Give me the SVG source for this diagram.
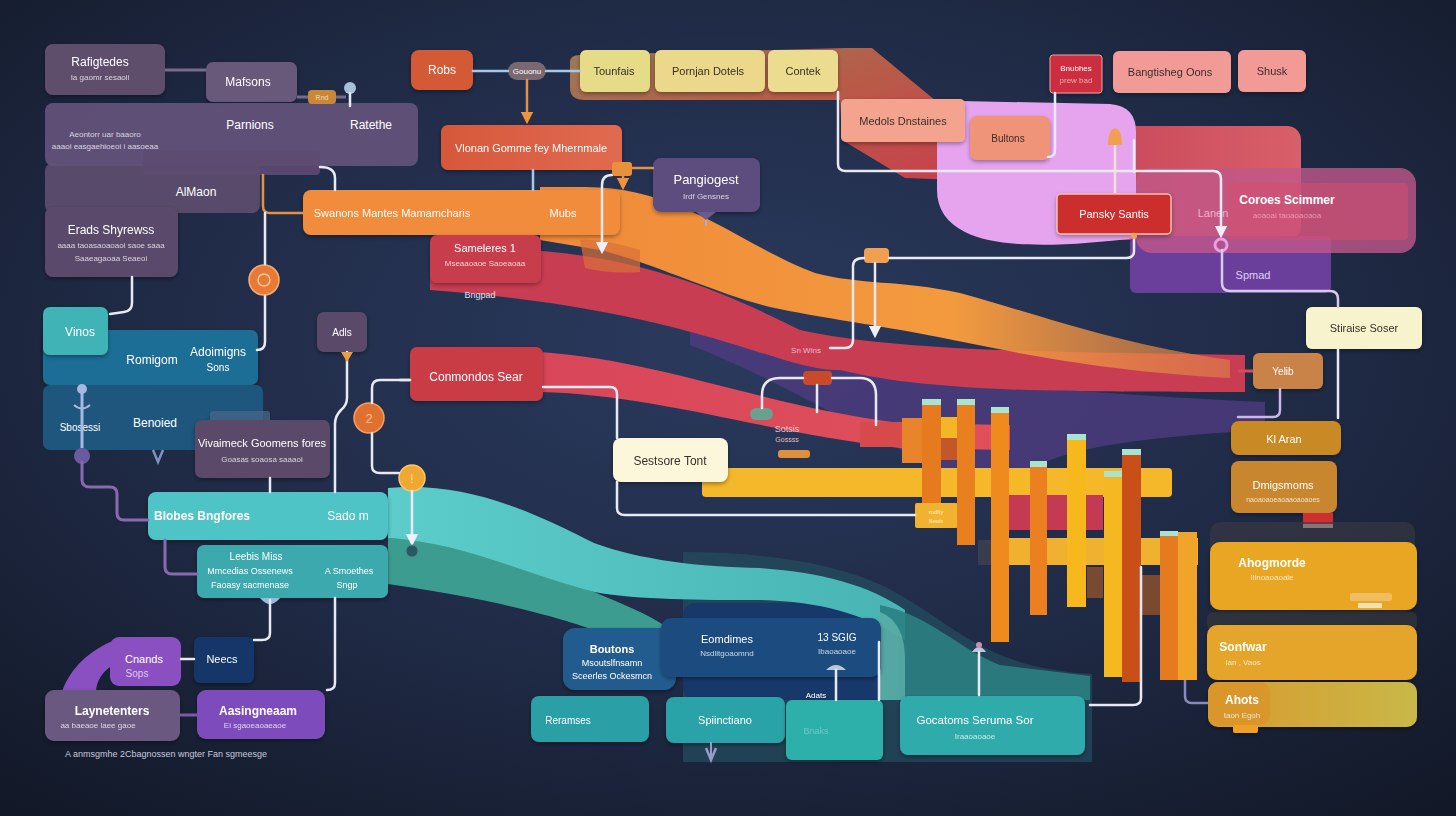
<svg xmlns="http://www.w3.org/2000/svg" width="1456" height="816" viewBox="0 0 1456 816">
<defs>
<radialGradient id="bg" cx="50%" cy="42%" r="75%">
<stop offset="0" stop-color="#2a3a5e"/><stop offset="0.55" stop-color="#1f2a45"/><stop offset="1" stop-color="#121827"/>
</radialGradient>
<linearGradient id="gOr" x1="0" y1="0" x2="1" y2="0"><stop offset="0" stop-color="#f08a3a"/><stop offset="0.6" stop-color="#f39a3e"/><stop offset="1" stop-color="#e0844a" stop-opacity="0.6"/></linearGradient>
<linearGradient id="gTeal" x1="0" y1="0" x2="1" y2="0"><stop offset="0" stop-color="#5ccdcb"/><stop offset="1" stop-color="#48b4b4"/></linearGradient>
<linearGradient id="gCrim" x1="0" y1="0" x2="1" y2="0"><stop offset="0" stop-color="#c9485a"/><stop offset="1" stop-color="#d8606a"/></linearGradient>
<linearGradient id="gRed2" x1="0" y1="0" x2="1" y2="0"><stop offset="0" stop-color="#d8465a"/><stop offset="1" stop-color="#e0505a"/></linearGradient>
<linearGradient id="gTop" x1="0" y1="0" x2="1" y2="1"><stop offset="0" stop-color="#9a7a55"/><stop offset="0.5" stop-color="#b85a48"/><stop offset="1" stop-color="#c8404c"/></linearGradient>
<linearGradient id="gAhots" x1="0" y1="0" x2="1" y2="0"><stop offset="0" stop-color="#d99a2e"/><stop offset="1" stop-color="#c8b848"/></linearGradient>
<linearGradient id="gVlon" x1="0" y1="0" x2="1" y2="0"><stop offset="0" stop-color="#d6583a"/><stop offset="1" stop-color="#e06a50"/></linearGradient>
<filter id="sh" x="-10%" y="-10%" width="120%" height="130%"><feDropShadow dx="0" dy="2" stdDeviation="2" flood-color="#000" flood-opacity="0.35"/></filter>
<marker id="aw" viewBox="0 0 10 10" refX="5" refY="5" markerWidth="5" markerHeight="5" orient="auto"><path d="M0 0 L10 5 L0 10 z" fill="#eef0f6"/></marker>
<marker id="ao" viewBox="0 0 10 10" refX="5" refY="5" markerWidth="5" markerHeight="5" orient="auto"><path d="M0 0 L10 5 L0 10 z" fill="#f0943a"/></marker>
<style>
.t{font-family:"Liberation Sans",Arial,sans-serif;font-size:12px;fill:#ffffff;text-anchor:middle}
.b{font-weight:bold}
.s{font-size:8px;fill-opacity:0.75}
.dk{fill:#3a2e2a}
.n{filter:url(#sh)}
.w{fill:none;stroke:#e8eaf3;stroke-width:2.5;stroke-linecap:round}
.lb{fill:none;stroke:#a9c6e6;stroke-width:2.5;stroke-linecap:round}
.or{fill:none;stroke:#e2904a;stroke-width:2.5;stroke-linecap:round}
.pu{fill:none;stroke:#8a6aae;stroke-width:3;stroke-linecap:round}
.cap{fill:#a8e4cf}
</style>
</defs>
<rect width="1456" height="816" fill="url(#bg)"/>

<g id="bands">
<path d="M 570 62 Q 570 55 580 55 L 845 48 L 872 48 L 965 125 L 962 180 L 905 178 L 842 140 L 840 100 L 585 100 Q 570 100 570 88 Z" fill="url(#gTop)"/>
<path d="M 690 300 C 800 330 880 370 980 382 C 1080 392 1180 398 1265 402 L 1265 430 C 1160 436 1070 445 1030 470 L 940 470 C 860 430 780 380 690 345 Z" fill="#4b3b7c" opacity="0.85"/>
<path d="M 430 250 C 600 240 700 280 800 330 C 900 352 1060 352 1245 355 L 1245 392 C 1060 392 930 392 840 370 C 780 372 700 310 430 290 Z" fill="#c93d52"/>
<path d="M 540 187 L 580 187 C 680 185 740 245 815 273 C 860 285 900 280 960 293 C 1040 315 1120 345 1230 360 L 1230 378 C 1120 372 1040 358 953 340 C 880 325 820 318 770 307 C 720 295 650 262 600 250 L 540 240 Z" fill="url(#gOr)"/>
<path d="M 580 240 Q 600 238 640 250 L 640 272 Q 610 274 585 268 Z" fill="#d8703a" opacity="0.7"/>
<path d="M 540 352 C 660 360 760 405 900 423 L 1010 425 L 1010 450 L 900 448 C 760 432 660 395 540 392 Z" fill="url(#gRed2)"/>
<path d="M 683 552 C 780 552 860 568 905 598 C 960 630 990 668 1092 674 L 1092 762 L 683 762 Z" fill="#244f60" opacity="0.7"/>
<rect x="683" y="603" width="215" height="97" rx="12" fill="#17386a"/>
<path d="M 388 538 C 460 540 520 568 594 592 C 625 605 650 615 668 628 L 600 632 C 560 618 500 600 388 584 Z" fill="#3d9c90"/>
<path d="M 388 488 C 460 482 520 505 594 543 C 640 560 700 567 760 568 C 820 572 870 585 905 610 L 905 640 C 860 612 820 602 760 600 C 700 600 640 600 594 592 C 520 572 460 542 388 538 Z" fill="url(#gTeal)"/>
<path d="M 880 605 C 930 615 960 650 1000 665 L 1090 676 L 1090 700 L 880 700 Z" fill="#2a7f82" opacity="0.9"/>
<path d="M 880 612 C 900 620 905 640 905 660 L 905 700 L 880 700 Z" fill="#7fd6c6" opacity="0.5"/>
<rect x="1100" y="126" width="201" height="114" rx="14" fill="url(#gCrim)"/>
<rect x="1130" y="236" width="201" height="57" rx="6" fill="#6a3f9c"/>
<rect x="1136" y="168" width="280" height="85" rx="16" fill="#c0588a" opacity="0.8"/>
<rect x="1228" y="183" width="180" height="57" rx="4" fill="#d44e70" opacity="0.55"/>
<path d="M 937 118 Q 937 102 960 101 L 1110 104 Q 1136 106 1136 132 L 1136 238 C 1070 246 1000 250 965 232 Q 937 218 937 190 Z" fill="#e6a4ef"/>
<rect x="702" y="468" width="470" height="29" rx="4" fill="#f5b82a"/>
<rect x="860" y="422" width="62" height="25" fill="#d64a4c"/>
<rect x="902" y="418" width="20" height="45" fill="#e8842a"/>
<rect x="941" y="417" width="16" height="21" fill="#f3b628"/>
<rect x="941" y="438" width="16" height="22" fill="#c2582a"/>
<rect x="1008" y="495" width="95" height="35" fill="#c43a52"/>
<rect x="1008" y="538" width="190" height="27" fill="#f0b030"/>
<rect x="978" y="540" width="30" height="25" fill="#4a4a52" opacity="0.6"/>
<rect x="1087" y="567" width="16" height="31" fill="#7a4a30"/>
<rect x="1141" y="575" width="19" height="40" fill="#7a4a30"/>
<rect x="915" y="503" width="43" height="25" rx="2" fill="#f1b230"/>
<text class="t" x="936" y="514" style="font-size:6px;fill:#fff2c0">rodfiy</text>
<text class="t" x="936" y="523" style="font-size:5px;fill:#fff2c0">lilesds</text>
</g>

<g id="bars">
<rect x="922" y="401" width="19" height="102" fill="#e57a1f"/><rect class="cap" x="922" y="399" width="19" height="6"/>
<rect x="957" y="401" width="18" height="144" fill="#e8801f"/><rect class="cap" x="957" y="399" width="18" height="6"/>
<rect x="991" y="409" width="18" height="233" fill="#ee8a1e"/><rect class="cap" x="991" y="407" width="18" height="6"/>
<rect x="1030" y="463" width="17" height="152" fill="#ec7f1f"/><rect class="cap" x="1030" y="461" width="17" height="6"/>
<rect x="1067" y="436" width="19" height="171" fill="#f7b81e"/><rect class="cap" x="1067" y="434" width="19" height="6"/>
<rect x="1104" y="473" width="18" height="204" fill="#f6b820"/><rect class="cap" x="1104" y="471" width="18" height="6"/>
<rect x="1122" y="451" width="19" height="231" fill="#c94f18"/><rect class="cap" x="1122" y="449" width="19" height="6"/>
<rect x="1160" y="533" width="18" height="147" fill="#e57a1f"/><rect class="cap" x="1160" y="531" width="18" height="5"/>
<rect x="1178" y="532" width="19" height="148" fill="#f0a52a"/>
</g>

<g id="nodes">
<g id="n-almaon"><rect x="45" y="163" width="215" height="50" rx="8" fill="#574a6a"/><text class="t" x="196" y="196">AlMaon</text></g>
<g id="n-rafigtedes" class="n"><rect x="45" y="44" width="120" height="51" rx="8" fill="#5f4e6c"/><text class="t" x="100" y="66">Rafigtedes</text><text class="t s" x="100" y="80">Ia gaomr sesaoii</text></g>
<g id="n-mafsons" class="n"><rect x="206" y="62" width="91" height="40" rx="7" fill="#675879"/><text class="t" x="248" y="86">Mafsons</text></g>
<g id="n-parnions"><rect x="45" y="103" width="373" height="63" rx="8" fill="#625179" opacity="0.95"/><rect x="143" y="150" width="177" height="25" rx="4" fill="#5d4a72" opacity="0.9"/><text class="t" x="250" y="129">Parnions</text><text class="t" x="371" y="129">Ratethe</text><text class="t s" x="105" y="137">Aeontorr uar baaoro</text><text class="t s" x="105" y="149">aaaoi easgaehioeoi i aasoeaa</text></g>
<g id="n-erads" class="n"><rect x="45" y="207" width="133" height="70" rx="8" fill="#5a4a6a"/><text class="t" x="111" y="234">Erads Shyrewss</text><text class="t s" x="111" y="248">aaaa taoasaoaoaoi saoe saaa</text><text class="t s" x="111" y="261">Saaeagaoaa Seaeoi</text></g>
<g id="n-swanons" class="n"><rect x="303" y="190" width="317" height="45" rx="8" fill="#f08c3a"/><text class="t" x="392" y="217" style="font-size:11px">Swanons Mantes Mamamcharis</text><text class="t" x="563" y="217" style="font-size:11px">Mubs</text></g>
<g id="n-orbit"><circle cx="264" cy="280" r="15" fill="#e87a35" stroke="#f5b07a" stroke-width="1.5"/><circle cx="264" cy="280" r="6" fill="none" stroke="#f7c79a" stroke-width="1.5"/></g>
<g id="n-romigom" class="n"><rect x="43" y="330" width="215" height="55" rx="7" fill="#1f6e96"/><text class="t" x="152" y="364">Romigom</text><text class="t" x="218" y="356">Adoimigns</text><text class="t" x="218" y="371" style="font-size:10px">Sons</text></g>
<g id="n-vinos" class="n"><rect x="43" y="307" width="65" height="48" rx="7" fill="#3fb3b6"/><text class="t" x="80" y="336">Vinos</text></g>
<g id="n-benoied"><rect x="43" y="385" width="220" height="65" rx="7" fill="#1e5a82" opacity="0.92"/><text class="t" x="80" y="431" style="font-size:10px">Sbosessi</text><text class="t" x="155" y="427">Benoied</text></g>
<g id="n-vivaimeck" class="n"><rect x="210" y="411" width="60" height="12" rx="3" fill="#4a6a8a" opacity="0.7"/><rect x="195" y="420" width="135" height="58" rx="7" fill="#5a4a68"/><text class="t" x="262" y="447" style="font-size:11px">Vivaimeck Goomens fores</text><text class="t s" x="262" y="462">Goasas soaosa saaaoi</text></g>
<g id="n-adls" class="n"><rect x="317" y="312" width="50" height="40" rx="7" fill="#5a4a68"/><text class="t" x="342" y="336" style="font-size:10px">Adls</text></g>
<g id="n-c2"><circle cx="369" cy="418" r="15" fill="#e07030" stroke="#f0a060" stroke-width="1.5"/><text class="t" x="369" y="423" style="font-size:13px;fill:#f8c08a">2</text></g>
<g id="n-c1"><circle cx="412" cy="478" r="13" fill="#f0a832" stroke="#f8c870" stroke-width="1.5"/><text class="t" x="412" y="483" style="font-size:12px;fill:#fbe0a0">!</text></g>
<g id="n-blobes" class="n"><rect x="148" y="492" width="240" height="48" rx="8" fill="#4fc4c6"/><text class="t b" x="202" y="520">Blobes Bngfores</text><text class="t" x="348" y="520">Sado m</text></g>
<g id="n-leebis" class="n"><rect x="197" y="545" width="191" height="53" rx="7" fill="#3ba9ae"/><text class="t" x="256" y="560" style="font-size:10px">Leebis Miss</text><text class="t" x="250" y="574" style="font-size:9px">Mmcedias Ossenews</text><text class="t" x="250" y="588" style="font-size:9px">Faoasy sacmenase</text><text class="t" x="349" y="574" style="font-size:9px">A  Smoethes</text><text class="t" x="347" y="588" style="font-size:9px">Sngp</text></g>
<g id="n-cnands"><path d="M 62 692 C 70 668 90 650 115 640 L 118 662 C 102 670 96 682 96 692 Z" fill="#8a50c2"/><rect x="110" y="637" width="71" height="49" rx="9" fill="#8a50c2"/><text class="t" x="144" y="663" style="font-size:11px">Cnands</text><text class="t" x="137" y="677" style="font-size:10px;fill-opacity:0.7">Sops</text></g>
<g id="n-neecs" class="n"><rect x="194" y="637" width="60" height="46" rx="6" fill="#153569"/><text class="t" x="222" y="663" style="font-size:11px">Neecs</text></g>
<g id="n-laynet" class="n"><rect x="45" y="690" width="135" height="51" rx="9" fill="#6a5880"/><text class="t b" x="112" y="715">Laynetenters</text><text class="t s" x="98" y="728">aa baeaoe laee gaoe</text></g>
<g id="n-aasing" class="n"><rect x="197" y="690" width="128" height="49" rx="9" fill="#7e4cbd"/><text class="t b" x="258" y="715">Aasingneaam</text><text class="t s" x="255" y="728">Ei sgaoeaoaeaoe</text></g>
<text class="t" x="65" y="757" style="font-size:9px;fill:#c8cadb;text-anchor:start">A anmsgmhe 2Cbagnossen wngter Fan sgmeesge</text>

<g id="n-robs" class="n"><rect x="411" y="50" width="62" height="40" rx="8" fill="#d45a35"/><text class="t" x="442" y="74">Robs</text></g>
<g id="n-gouonu"><rect x="508" y="62" width="38" height="18" rx="9" fill="#7a6870"/><text class="t" x="527" y="74" style="font-size:8px">Gouonu</text></g>
<g id="n-vlonan" class="n"><rect x="441" y="125" width="181" height="45" rx="7" fill="url(#gVlon)"/><text class="t" x="531" y="152" style="font-size:11px">Vlonan Gomme fey Mhernmale</text></g>
<g id="n-tounfais" class="n"><rect x="580" y="50" width="70" height="42" rx="6" fill="#e6dc88"/><text class="t dk" x="614" y="75" style="font-size:11px">Tounfais</text></g>
<g id="n-pornjan" class="n"><rect x="655" y="50" width="110" height="42" rx="6" fill="#ecd88a"/><text class="t dk" x="708" y="75" style="font-size:11px">Pornjan Dotels</text></g>
<g id="n-contek" class="n"><rect x="768" y="50" width="70" height="42" rx="6" fill="#ecdc90"/><text class="t dk" x="803" y="75" style="font-size:11px">Contek</text></g>
<g id="n-pangiogest" class="n"><rect x="653" y="158" width="107" height="54" rx="8" fill="#5b4e7e"/><text class="t" x="706" y="184" style="font-size:13px">Pangiogest</text><text class="t s" x="706" y="199">Irdf Gensnes</text></g>
<g id="n-sameleres" class="n"><rect x="430" y="235" width="111" height="48" rx="7" fill="#c83e4c"/><text class="t" x="485" y="252" style="font-size:11px">Sameleres 1</text><text class="t s" x="485" y="266">Mseaaoaoe Saoeaoaa</text></g>
<text class="t" x="480" y="298" style="font-size:9px;fill:#dde0ee">Bngpad</text>

<g id="n-medols" class="n"><rect x="841" y="99" width="124" height="43" rx="5" fill="#f4a48e"/><text class="t dk" x="903" y="125" style="font-size:11px">Medols  Dnstaines</text></g>
<g id="n-bultons" class="n"><rect x="970" y="116" width="80" height="44" rx="7" fill="#ef9478"/><text class="t dk" x="1008" y="142" style="font-size:10px">Bultons</text></g>
<g id="n-bnubhes" class="n"><rect x="1050" y="55" width="52" height="38" rx="3" fill="#cc2f3f" stroke="#e8a0a0" stroke-width="1"/><text class="t" x="1076" y="71" style="font-size:8px">Bnubhes</text><text class="t" x="1076" y="83" style="font-size:8px;fill:#f3a8b0">prew bad</text></g>
<g id="n-bang" class="n"><rect x="1113" y="51" width="118" height="42" rx="6" fill="#f29a96"/><text class="t dk" x="1170" y="76" style="font-size:11px">Bangtisheg Oons</text></g>
<g id="n-shusk" class="n"><rect x="1238" y="50" width="68" height="42" rx="6" fill="#f29a96"/><text class="t dk" x="1272" y="75" style="font-size:11px">Shusk</text></g>
<g id="n-pansky" class="n"><rect x="1057" y="194" width="114" height="40" rx="4" fill="#cc2e2e" stroke="#f5c0b0" stroke-width="1.5"/><text class="t" x="1114" y="218" style="font-size:11px">Pansky Santis</text></g>
<g id="n-coroes"><text class="t" x="1213" y="217" style="font-size:11px;fill:#f2b0c8">Lanen</text><text class="t b" x="1287" y="204">Coroes Scimmer</text><text class="t s" x="1287" y="218" style="fill:#f5b0c0">aoaoai taoaoaoaoa</text></g>
<g id="n-spmad"><text class="t" x="1253" y="279" style="font-size:11px;fill:#e0d0f5">Spmad</text></g>
<g id="n-stiraise" class="n"><rect x="1306" y="307" width="116" height="42" rx="6" fill="#f7f3cc"/><text class="t dk" x="1364" y="332" style="font-size:11px">Stiraise Soser</text></g>
<g id="n-yelib" class="n"><rect x="1253" y="353" width="70" height="36" rx="6" fill="#c9834a"/><text class="t" x="1283" y="375" style="font-size:10px">Yelib</text></g>
<g id="n-klaran" class="n"><rect x="1231" y="421" width="110" height="34" rx="8" fill="#c98a28"/><text class="t" x="1284" y="443" style="font-size:11px">Kl Aran</text></g>
<g id="n-dmigs" class="n"><rect x="1231" y="461" width="106" height="52" rx="8" fill="#c8862e"/><text class="t" x="1283" y="489" style="font-size:11px">Dmigsmoms</text><text class="t s" x="1283" y="502" style="font-size:7px">naoaoaoeaoaaoaoaoes</text></g>
<g id="n-redicon"><rect x="1303" y="513" width="30" height="11" fill="#cc3030"/><rect x="1303" y="524" width="30" height="4" fill="#f0d0d0"/></g>
<rect x="1210" y="522" width="205" height="90" rx="10" fill="#3a3a42" opacity="0.6"/>
<g id="n-ahog" class="n"><rect x="1210" y="542" width="207" height="68" rx="10" fill="#e8a622"/><text class="t b" x="1272" y="567">Ahogmorde</text><text class="t s" x="1272" y="580">Ilinoaoaoaie</text><rect x="1350" y="593" width="42" height="8" rx="2" fill="#f0bd60"/><rect x="1358" y="603" width="24" height="5" fill="#f4e0b0"/></g>
<rect x="1207" y="612" width="210" height="18" rx="6" fill="#3a3a3a" opacity="0.6"/>
<g id="n-sonfwar" class="n"><rect x="1207" y="625" width="210" height="55" rx="10" fill="#e5a52a"/><text class="t b" x="1243" y="651">Sonfwar</text><text class="t s" x="1243" y="665">Ian , Vaos</text></g>
<g id="n-ahots" class="n"><rect x="1208" y="682" width="209" height="45" rx="10" fill="url(#gAhots)"/><rect x="1208" y="682" width="62" height="43" rx="10" fill="#d9962c"/><text class="t b" x="1242" y="704">Ahots</text><text class="t s" x="1242" y="718">taon Egoh</text><rect x="1233" y="725" width="25" height="8" rx="2" fill="#f0a020"/></g>

<g id="n-conmondos" class="n"><rect x="410" y="347" width="133" height="54" rx="7" fill="#c93a44"/><text class="t" x="476" y="381">Conmondos Sear</text></g>
<g id="n-sestsore" class="n"><rect x="613" y="438" width="115" height="44" rx="8" fill="#fcf7da"/><text class="t dk" x="670" y="465">Sestsore Tont</text></g>
<g id="n-sotsis"><rect x="803" y="371" width="29" height="14" rx="4" fill="#c84a2a"/><rect x="750" y="408" width="23" height="12" rx="6" fill="#6aa090"/><text class="t" x="787" y="432" style="font-size:9px;fill:#f0c8d0">Sotsis</text><text class="t" x="787" y="442" style="font-size:7px;fill:#f0b8c0">Gossss</text><rect x="778" y="450" width="32" height="8" rx="3" fill="#e0903a"/><text class="t" x="806" y="353" style="font-size:8px;fill:#f2b8c8">Sn Wins</text></g>
<g id="n-tag"><rect x="864" y="248" width="25" height="15" rx="4" fill="#f0a050"/></g>

<g id="n-boutons" class="n"><rect x="563" y="628" width="113" height="62" rx="12" fill="#245c8e"/><text class="t b" x="612" y="653" style="font-size:11px">Boutons</text><text class="t" x="612" y="666" style="font-size:9px">Msoutslfnsamn</text><text class="t" x="612" y="679" style="font-size:9px">Sceerles Ockesmcn</text></g>
<g id="n-eomdimes" class="n"><rect x="661" y="618" width="220" height="59" rx="10" fill="#1e4c80"/><text class="t" x="727" y="643" style="font-size:11px">Eomdimes</text><text class="t s" x="727" y="656">Nsdlitgoaomnd</text><text class="t" x="837" y="641" style="font-size:10px">13 SGIG</text><text class="t s" x="837" y="654">Ibaoaoaoe</text></g>
<g id="n-reramses" class="n"><rect x="531" y="696" width="118" height="46" rx="8" fill="#2a9fa6"/><text class="t" x="568" y="724" style="font-size:10px">Reramses</text></g>
<g id="n-spiin" class="n"><rect x="666" y="697" width="119" height="46" rx="8" fill="#2aa3a8"/><text class="t" x="725" y="724" style="font-size:11px">Spiinctiano</text></g>
<g id="n-adats" class="n"><rect x="786" y="700" width="97" height="60" rx="6" fill="#2eb0aa"/><text class="t" x="816" y="698" style="font-size:8px">Adats</text><text class="t" x="816" y="734" style="font-size:9px;fill-opacity:0.3">Bnaks</text></g>
<g id="n-gocatoms" class="n"><rect x="900" y="696" width="185" height="59" rx="8" fill="#2fabaa"/><text class="t" x="975" y="724" style="font-size:11.5px">Gocatoms Seruma Sor</text><text class="t s" x="975" y="739">Iraaoaoaoe</text></g>
</g>

<g id="connectors">
<path d="M 165 70 L 206 70" fill="none" stroke="#7a6a8a" stroke-width="3"/>
<path d="M 297 97 L 346 97" fill="none" stroke="#7a6a8a" stroke-width="3"/>
<rect x="308" y="90" width="28" height="14" rx="4" fill="#c9873a"/><text class="t" x="322" y="100" style="font-size:7px;fill:#f8d8a8">Rnd</text>
<circle cx="350" cy="88" r="6" fill="#a8c0d8"/><path class="w" d="M 350 93 L 350 106"/>
<path class="w" d="M 320 167 Q 335 167 335 178 L 335 190"/>
<path class="or" d="M 263 175 L 263 206 Q 263 213 270 213 L 303 213"/>
<path class="w" d="M 265 213 L 265 264"/>
<path class="w" d="M 265 296 L 265 342 Q 265 350 257 350"/>
<path class="w" d="M 132 277 L 132 303 Q 132 311 124 312 L 110 314"/>
<path class="w" d="M 347 352 L 347 398 Q 347 405 341 410 Q 335 416 335 424 L 335 492"/>
<path d="M 341 352 L 353 352 L 347 362 Z" fill="#e8a040"/>
<path class="w" d="M 410 380 L 380 380 Q 372 380 372 388 L 372 403"/>
<path class="w" d="M 372 433 L 372 466 Q 372 473 380 473 L 399 473"/>
<path class="w" d="M 412 491 L 412 540" marker-end="url(#aw)"/>
<circle cx="412" cy="551" r="6" fill="#2a5860" stroke="#4a8a90" stroke-width="1"/>
<path d="M 82 390 L 82 448" fill="none" stroke="#a8b8e0" stroke-width="3"/>
<circle cx="82" cy="389" r="5" fill="#a8b8e0"/>
<path d="M 74 405 Q 82 412 90 405" fill="none" stroke="#a8b8e0" stroke-width="2"/>
<circle cx="82" cy="456" r="8" fill="#6a5aa0"/>
<path class="pu" d="M 82 462 L 82 480 Q 82 487 90 487 L 110 487 Q 117 487 117 494 L 117 513 Q 117 520 124 520 L 148 520"/>
<path d="M 153 450 L 158 462 L 163 450" fill="none" stroke="#8090c0" stroke-width="2.5"/>
<path class="w" d="M 270 478 L 270 492"/>
<path class="pu" d="M 165 540 L 165 567 Q 165 574 172 574 L 197 574"/>
<path d="M 260 598 Q 270 610 280 598 Z" fill="#9ab8d8"/>
<path class="w" d="M 270 600 L 270 633 Q 270 640 262 640 L 254 640"/>
<path class="w" d="M 335 598 L 335 683 Q 335 690 327 690"/>
<path class="w" d="M 181 659 L 194 659"/>
<path d="M 180 715 L 197 715" fill="none" stroke="#7a5aa0" stroke-width="3"/>
<path class="lb" d="M 473 71 L 508 71"/>
<path class="lb" d="M 546 71 L 580 71"/>
<path class="or" d="M 527 80 L 527 118" marker-end="url(#ao)"/>
<path class="lb" d="M 533 170 L 533 190"/>
<path class="w" d="M 612 175 Q 602 175 602 185 L 602 248" marker-end="url(#aw)"/>
<path class="or" d="M 632 168 L 653 168"/>
<rect x="612" y="162" width="20" height="14" rx="3" fill="#e8903a"/>
<path class="or" d="M 623 176 L 623 184" marker-end="url(#ao)"/>
<path d="M 706 212 L 706 226" fill="none" stroke="#a8b0d0" stroke-width="2"/>
<path d="M 696 212 L 716 212 L 706 220 Z" fill="#6a5a8e"/>
<path class="w" d="M 838 92 L 838 164 Q 838 171 846 171 L 1213 171 Q 1221 171 1221 179 L 1221 232" marker-end="url(#aw)"/>
<circle cx="1221" cy="245" r="6" fill="none" stroke="#e8a0e0" stroke-width="3"/>
<path class="w" d="M 1055 93 L 1055 150 Q 1055 157 1048 157"/>
<path d="M 1115 193 L 1115 140" fill="none" stroke="#f0e0d8" stroke-width="2.5"/>
<path d="M 1108 145 Q 1108 130 1115 128 Q 1122 130 1122 145 Z" fill="#f0a050"/>
<path class="w" d="M 1134 140 L 1134 172"/>
<path class="w" d="M 1134 234 L 1134 251 Q 1134 258 1126 258 L 889 258"/>
<circle cx="1134" cy="236" r="3" fill="#f0a050"/>
<path class="w" d="M 864 258 Q 853 258 853 266 L 853 340 Q 853 348 845 348 L 830 348"/>
<path class="w" d="M 875 263 L 875 332" marker-end="url(#aw)"/>
<path class="w" d="M 1222 250 L 1222 283 Q 1222 291 1230 291 L 1330 291 Q 1338 291 1338 299 L 1338 307" style="stroke:#d8c8ec"/>
<path class="w" d="M 1338 349 L 1338 418"/>
<path class="w" d="M 1280 389 L 1280 410 Q 1280 417 1273 417 L 1238 417" style="stroke:#c8b8e8"/>
<path d="M 1238 371 L 1253 371" fill="none" stroke="#d84a5a" stroke-width="3"/>
<path class="w" d="M 400 380 L 410 380"/>
<path class="w" d="M 543 387 L 610 387 Q 617 387 617 394 L 617 438"/>
<path class="w" d="M 617 482 L 617 508 Q 617 515 625 515 L 915 515"/>
<path class="w" d="M 762 408 L 762 395 Q 762 378 780 378 L 803 378"/>
<path class="w" d="M 832 378 L 860 378 Q 876 378 876 395 L 876 425"/>
<path class="w" d="M 817 385 L 817 412"/>
<path class="w" d="M 1141 567 L 1141 698 Q 1141 705 1133 705 L 1090 705"/>
<path d="M 1185 680 L 1185 696 Q 1185 703 1192 703 L 1208 703" fill="none" stroke="#8a8ab8" stroke-width="2.5"/>
<path class="w" d="M 879 642 L 879 700"/>
<path d="M 826 670 Q 836 660 846 670 Z" fill="#b8c8d8"/><path class="w" d="M 836 670 L 836 700"/>
<path d="M 972 652 Q 979 642 986 652 Z" fill="#b8c8d8"/><circle cx="979" cy="645" r="3" fill="#c890b8"/><path class="w" d="M 979 652 L 979 695"/>
<path d="M 706 748 L 711 760 L 716 748" fill="none" stroke="#9a9ac8" stroke-width="2.5"/>
<path d="M 711 742 L 711 758" fill="none" stroke="#9a9ac8" stroke-width="2"/>
</g>
</svg>
